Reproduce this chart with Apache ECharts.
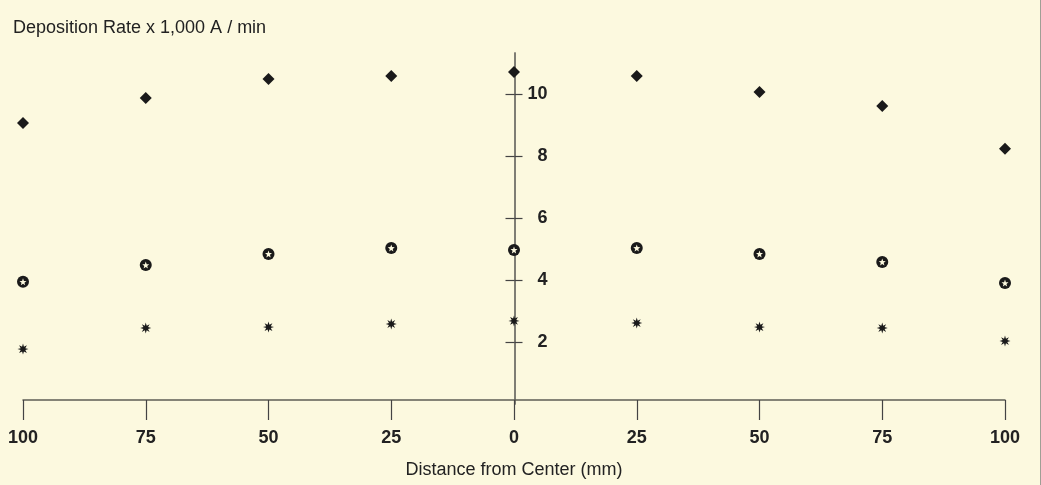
<!DOCTYPE html>
<html><head><meta charset="utf-8">
<script src="https://cdn.jsdelivr.net/npm/echarts@6/dist/echarts.min.js"></script>
<style>
html,body{margin:0;padding:0;background:#fcf9df;}
#c{width:1040px;height:485px;border-right:1px solid #a09f95;}
</style>
</head><body><div id="c"></div>
<script>
// ---- data ----
const distances = [-100, -75, -50, -25, 0, 25, 50, 75, 100];
const rateDiamond  = [9.06, 9.87, 10.48, 10.58, 10.71, 10.58, 10.06, 9.61, 8.23];
const rateCircle   = [3.94, 4.48, 4.84, 5.03, 4.97, 5.03, 4.84, 4.58, 3.90];
const rateAsterisk = [1.77, 2.45, 2.48, 2.58, 2.68, 2.61, 2.48, 2.45, 2.03];
const yTickValues = [2, 4, 6, 8, 10];
const titleText = 'Deposition Rate x 1,000 A / min';
const xAxisTitle = 'Distance from Center (mm)';

// ---- symbol shapes ----
function starPath(n, rIn) {
  let d = '';
  for (let i = 0; i < 2 * n; i++) {
    const r = i % 2 === 0 ? 1 : rIn;
    const a = -Math.PI / 2 + i * Math.PI / n;
    d += (i === 0 ? 'M' : 'L') + (r * Math.cos(a)).toFixed(4) + ' ' + (r * Math.sin(a)).toFixed(4) + ' ';
  }
  return 'path://' + d + 'Z';
}
const star5 = starPath(5, 0.42);
const star8 = starPath(8, 0.45);

const pairs = arr => distances.map((x, i) => [x, arr[i]]);
const ink = '#1a1a1a';
const bg = '#fcf9df';
const font = 'Liberation Sans, Arial, sans-serif';

const gridLeft = 23, gridRight = 35;
const plotW = 1041 - gridLeft - gridRight;
const centerOffset = -plotW / 2;   // moves the y axis to x = 0

const chart = echarts.init(document.getElementById('c'), null, {renderer: 'canvas'});
const yCommon = {
  type: 'value', min: 0, max: 11.32, interval: 2,
  position: 'left', offset: centerOffset,
  splitLine: {show: false}
};
chart.setOption({
  backgroundColor: bg,
  animation: false,
  title: {
    text: titleText, left: 13, top: 19, padding: 0,
    textStyle: {fontFamily: font, fontSize: 18, fontWeight: 'normal', color: '#222'}
  },
  grid: {left: gridLeft, right: gridRight, top: 53, bottom: 81},
  xAxis: {
    type: 'value', min: -100, max: 100, interval: 25, offset: -4,
    axisLine: {onZero: false, lineStyle: {color: '#5e5d56', width: 1.5}},
    axisTick: {length: 20, lineStyle: {color: '#444', width: 1.2}},
    axisLabel: {
      formatter: v => String(Math.abs(v)), margin: 29,
      fontFamily: font, fontSize: 18, fontWeight: 'bold', color: '#222'
    },
    splitLine: {show: false},
    name: xAxisTitle, nameLocation: 'middle', nameGap: 61,
    nameTextStyle: {fontFamily: font, fontSize: 18, color: '#222'}
  },
  yAxis: [
    Object.assign({}, yCommon, {
      axisLine: {show: true, onZero: false, lineStyle: {color: '#77766e', width: 1.5}},
      axisTick: {show: true, inside: true, length: 8, customValues: yTickValues, lineStyle: {color: '#444', width: 1.2}},
      axisLabel: {
        inside: true, align: 'right', margin: 33, customValues: yTickValues,
        padding: [0, 0, 6, 0],
        fontFamily: font, fontSize: 18, fontWeight: 'bold', color: '#222'
      }
    }),
    Object.assign({}, yCommon, {
      axisLine: {show: true, onZero: false, lineStyle: {color: '#77766e', width: 1.5}},
      axisTick: {show: true, inside: false, length: 9, customValues: yTickValues, lineStyle: {color: '#444', width: 1.2}},
      axisLabel: {show: false}
    })
  ],
  series: [
    {type: 'scatter', silent: true, symbol: 'diamond', symbolSize: [12, 12],
     itemStyle: {color: ink, opacity: 1}, data: pairs(rateDiamond), z: 3},
    {type: 'scatter', silent: true, symbol: 'circle', symbolSize: 12,
     itemStyle: {color: ink, opacity: 1}, data: pairs(rateCircle), z: 3},
    {type: 'scatter', silent: true, symbol: star5, symbolSize: 7,
     itemStyle: {color: bg, opacity: 1}, data: pairs(rateCircle), z: 4},
    {type: 'scatter', silent: true, symbol: star8, symbolSize: 11,
     itemStyle: {color: ink, opacity: 1}, data: pairs(rateAsterisk), z: 3}
  ]
});
</script>
</body></html>
